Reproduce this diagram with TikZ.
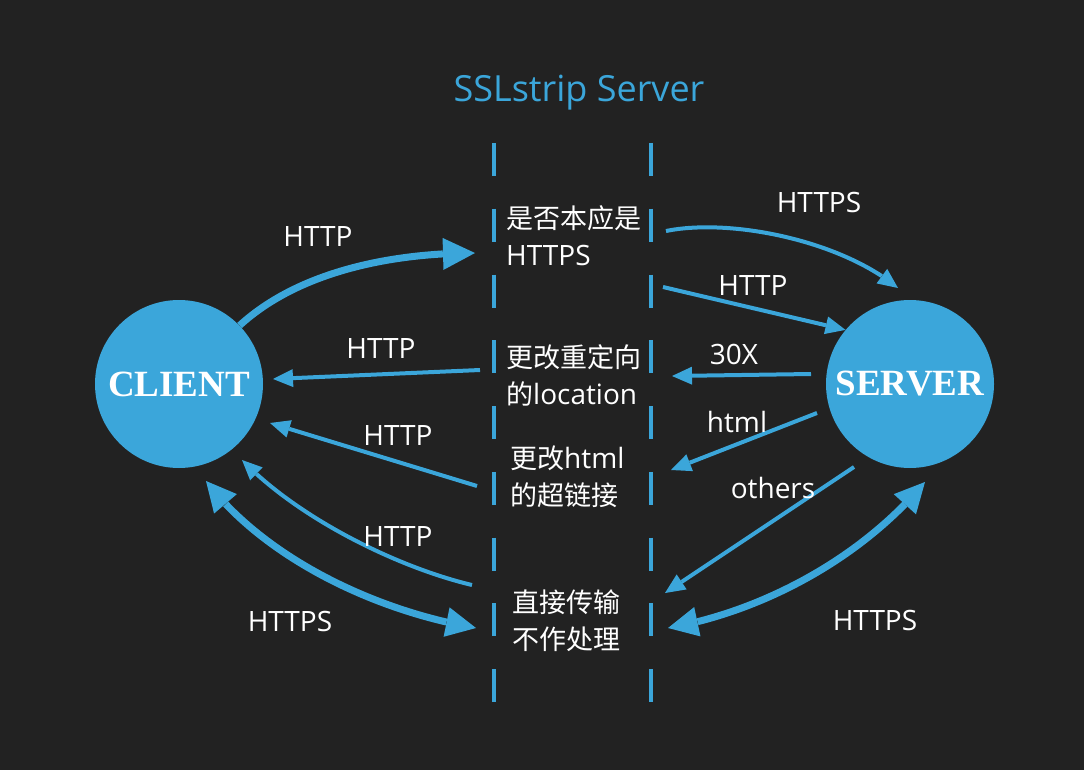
\documentclass[tikz,border=0pt]{standalone}
\usepackage{fontspec}
\setmainfont{Open Sans}
\newfontfamily\cjk{Noto Sans CJK SC}
\newfontfamily\hostfont{Liberation Serif}
\usetikzlibrary{arrows.meta, bending}
\definecolor{sslblue}{HTML}{3BA6DA}
\definecolor{bgdark}{HTML}{222222}
\newcommand{\zh}[1]{{\cjk\fontsize{27}{37}\selectfont #1}}

\begin{document}
\begin{tikzpicture}[x=1pt, y=-1pt,
  lbl/.style={text=white, font=\fontsize{28}{34}\selectfont, inner sep=0pt, anchor=base},
  note/.style={text=white, font=\fontsize{28}{37}\selectfont, align=left, inner sep=0pt, anchor=west},
  host/.style={circle, fill=sslblue, minimum size=168pt, inner sep=0pt, text=white, font=\hostfont\bfseries\fontsize{37}{40}\selectfont},
  divider/.style={sslblue, line width=4.5pt, dash pattern=on 33pt off 32.75pt},
  flow/.style={sslblue, line width=4pt, -{Triangle[length=20pt, width=18pt, line width=0pt]}},
  boldflow/.style={sslblue, line width=7pt, -{Triangle[length=32pt, width=32pt, line width=0pt]}},
  twoway/.style={sslblue, line width=7pt, {Triangle[length=30pt, width=30pt, line width=0pt]}-{Triangle[length=30pt, width=30pt, line width=0pt]}}]
\fill[bgdark] (0,0) rectangle (1084,770);
\useasboundingbox (0,0) rectangle (1084,770);

\node[lbl, text=sslblue, font=\fontsize{36}{40}\selectfont] (title) at (579,102) {SSLstrip Server};
\draw[divider] (494,143) -- (494,703);
\draw[divider] (651,143) -- (651,703);

\node[host] (client) at (179,384) {CLIENT};
\node[host] (server) at (910,384) {SERVER};

\node[note] (ask) at (506,236) {\zh{是否本应是}\\HTTPS};
\node[note] (redir) at (506,375) {\zh{更改重定向}\\\zh{的}location};
\node[note] (relink) at (510,477) {\zh{更改}html\\\zh{的超链接}};
\node[note] (pass) at (512,620.5) {\zh{直接传输}\\\zh{不作处理}};

% free ends beside the dashed lines and the hosts
\coordinate (askin) at (475,253);
\coordinate (askout) at (666,231);
\coordinate (askdown) at (663,287);
\coordinate (srvtop) at (898,288);
\coordinate (srvredir) at (811,374);
\coordinate (redirin) at (672,376);
\coordinate (srvhtml) at (817,413);
\coordinate (relinkin) at (671,470);
\coordinate (srvother) at (854,467);
\coordinate (passin) at (665,593);
\coordinate (passright) at (668,628);
\coordinate (srvlow) at (925,482);
\coordinate (redirout) at (480,370);
\coordinate (cltmid) at (273,379);
\coordinate (relinkout) at (477,486);
\coordinate (cltlow) at (270,423);
\coordinate (passout) at (472,585);
\coordinate (cltcurve) at (242,460);
\coordinate (passleft) at (476,628);
\coordinate (cltbottom) at (206,481);

\draw[boldflow] (client.44) .. controls (298,272) and (390,253) .. (askin);
\draw[flow] (askout) .. controls (730,218) and (840,240) .. (srvtop);
\draw[flow] (askdown) -- (server.140);
\draw[flow] (srvredir) -- (redirin);
\draw[flow] (srvhtml) -- (relinkin);
\draw[flow] (srvother) -- (passin);
\draw[twoway] (passright) .. controls (760,612) and (860,560) .. (srvlow);
\draw[flow] (redirout) -- (cltmid);
\draw[flow] (relinkout) -- (cltlow);
\draw[flow] (passout) .. controls (400,568) and (300,520) .. (cltcurve);
\draw[twoway] (cltbottom) .. controls (262,555) and (370,610) .. (passleft);

\node[lbl] (httpup) at (318,247) {HTTP};
\node[lbl] (httpsup) at (819,213) {HTTPS};
\node[lbl] (httpsrv) at (753,295) {HTTP};
\node[lbl] (redirlbl) at (734,364) {30X};
\node[lbl] (htmllbl) at (737,432) {html};
\node[lbl] (otherlbl) at (773,498) {others};
\node[lbl] (httpsright) at (875,630) {HTTPS};
\node[lbl] (httpredir) at (381,358) {HTTP};
\node[lbl] (httprelink) at (398,445) {HTTP};
\node[lbl] (httppass) at (398,546) {HTTP};
\node[lbl] (httpsleft) at (290,631) {HTTPS};
\end{tikzpicture}
\end{document}
